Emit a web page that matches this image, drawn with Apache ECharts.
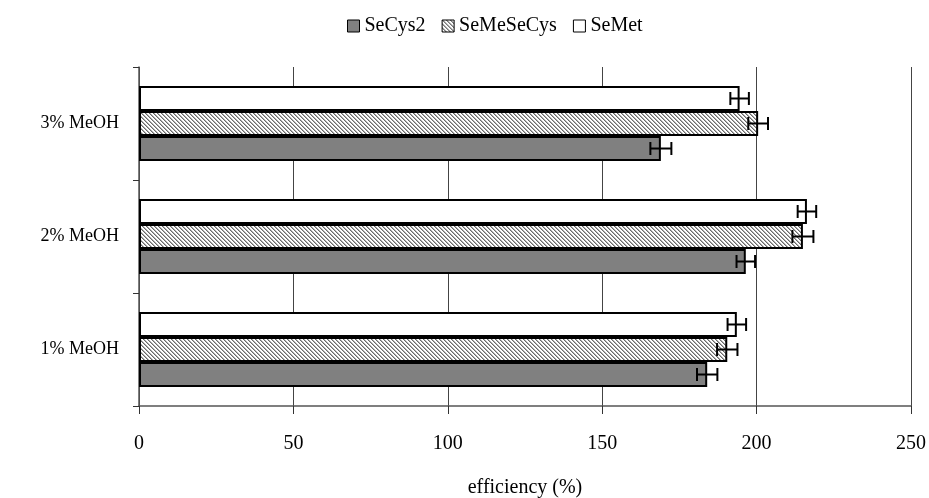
<!DOCTYPE html>
<html>
<head>
<meta charset="utf-8">
<script src="https://cdn.jsdelivr.net/npm/echarts@6/dist/echarts.min.js"></script>
<style>
  html, body { margin: 0; padding: 0; background: #fff; }
  #chart { width: 929px; height: 498px; }
</style>
</head>
<body>
<div id="chart"></div>
<script>
// Methanol content of the extraction medium (bottom to top)
const categories = ['1% MeOH', '2% MeOH', '3% MeOH'];
const seriesNames = ['SeCys2', 'SeMeSeCys', 'SeMet'];

// Extraction efficiency (%) per species
const seCys2 = [184, 196.5, 169];
const seMeSeCys = [190.5, 215, 200.5];
const seMet = [193.6, 216.3, 194.5];

// Standard deviations
const seCys2Err = [3.3, 3, 3.4];
const seMeSeCysErr = [3.3, 3.4, 3.2];
const seMetErr = [3, 3, 3];

const xTicks = [0, 50, 100, 150, 200, 250];

// Diagonal hatch fill
function hatch() {
  const c = document.createElement('canvas');
  c.width = 4; c.height = 4;
  const g = c.getContext('2d');
  g.fillStyle = '#fff';
  g.fillRect(0, 0, 4, 4);
  for (let y = 0; y < 4; y++) {
    g.fillStyle = '#6a6a6a';
    g.fillRect(y, y, 1, 1);
    g.fillStyle = '#b0b0b0';
    g.fillRect((y + 1) % 4, y, 1, 1);
  }
  return c;
}

const gapPct = 0.336;
const font = 'Liberation Serif, Times New Roman, serif';

// Bars are laid out top-to-bottom in series order: SeMet, SeMeSeCys, SeCys2
const barSpecs = [
  { name: 'SeMet', data: seMet, err: seMetErr, color: '#ffffff' },
  { name: 'SeMeSeCys', data: seMeSeCys, err: seMeSeCysErr, color: { image: hatch(), repeat: 'repeat' } },
  { name: 'SeCys2', data: seCys2, err: seCys2Err, color: '#808080' }
];

const errRows = [];
barSpecs.forEach((s, slot) => {
  s.data.forEach((v, i) => {
    errRows.push([i, v - s.err[i], v + s.err[i], slot]);
  });
});

const series = barSpecs.map(s => ({
  name: s.name,
  type: 'bar',
  data: s.data,
  barGap: '0%',
  barCategoryGap: (gapPct * 100) + '%',
  itemStyle: { color: s.color, borderColor: '#000', borderWidth: 2 },
  emphasis: { disabled: true },
  z: 2
}));

series.push({
  name: 'error',
  type: 'custom',
  data: errRows,
  z: 5,
  silent: true,
  renderItem: function (params, api) {
    const cat = api.value(0);
    const lo = api.coord([api.value(1), cat]);
    const hi = api.coord([api.value(2), cat]);
    const band = api.size([0, 1])[1];
    const bw = band * (1 - gapPct) / 3;
    const y = lo[1] + (api.value(3) - 1) * bw;
    const cap = 6.5;
    const st = { stroke: '#000', lineWidth: 2 };
    return {
      type: 'group',
      children: [
        { type: 'line', shape: { x1: lo[0], y1: y, x2: hi[0], y2: y }, style: st },
        { type: 'line', shape: { x1: lo[0], y1: y - cap, x2: lo[0], y2: y + cap }, style: st },
        { type: 'line', shape: { x1: hi[0], y1: y - cap, x2: hi[0], y2: y + cap }, style: st }
      ]
    };
  }
});

const chart = echarts.init(document.getElementById('chart'), null, { renderer: 'canvas' });
chart.setOption({
  animation: false,
  backgroundColor: '#fff',
  textStyle: { fontFamily: font, color: '#000' },
  legend: {
    data: seriesNames,
    top: 11,
    left: 342,
    itemWidth: 12,
    itemHeight: 12,
    itemGap: 16,
    icon: 'rect',
    itemStyle: { borderColor: '#000', borderWidth: 1 },
    textStyle: { fontFamily: font, fontSize: 20, color: '#000' }
  },
  grid: { left: 139, right: 18, top: 67, bottom: 92, outerBoundsMode: 'none', containLabel: false },
  xAxis: {
    type: 'value',
    min: xTicks[0],
    max: xTicks[xTicks.length - 1],
    interval: 50,
    name: 'efficiency (%)',
    nameLocation: 'middle',
    nameGap: 72,
    nameTextStyle: { fontFamily: font, fontSize: 20, color: '#000' },
    axisLine: { show: true, lineStyle: { color: '#555', width: 1.5 } },
    axisTick: { show: true, inside: false, length: 8, lineStyle: { color: '#333', width: 1 } },
    axisLabel: { fontFamily: font, fontSize: 20, color: '#000', margin: 28 },
    splitLine: { show: true, lineStyle: { color: '#444', width: 1 } }
  },
  yAxis: {
    type: 'category',
    data: categories,
    axisLine: { show: true, lineStyle: { color: '#555', width: 1.5 } },
    axisTick: { show: true, length: 6, lineStyle: { color: '#333', width: 1 } },
    axisLabel: { fontFamily: font, fontSize: 18, color: '#000', margin: 20 },
    splitLine: { show: false }
  },
  series: series
});
</script>
</body>
</html>
